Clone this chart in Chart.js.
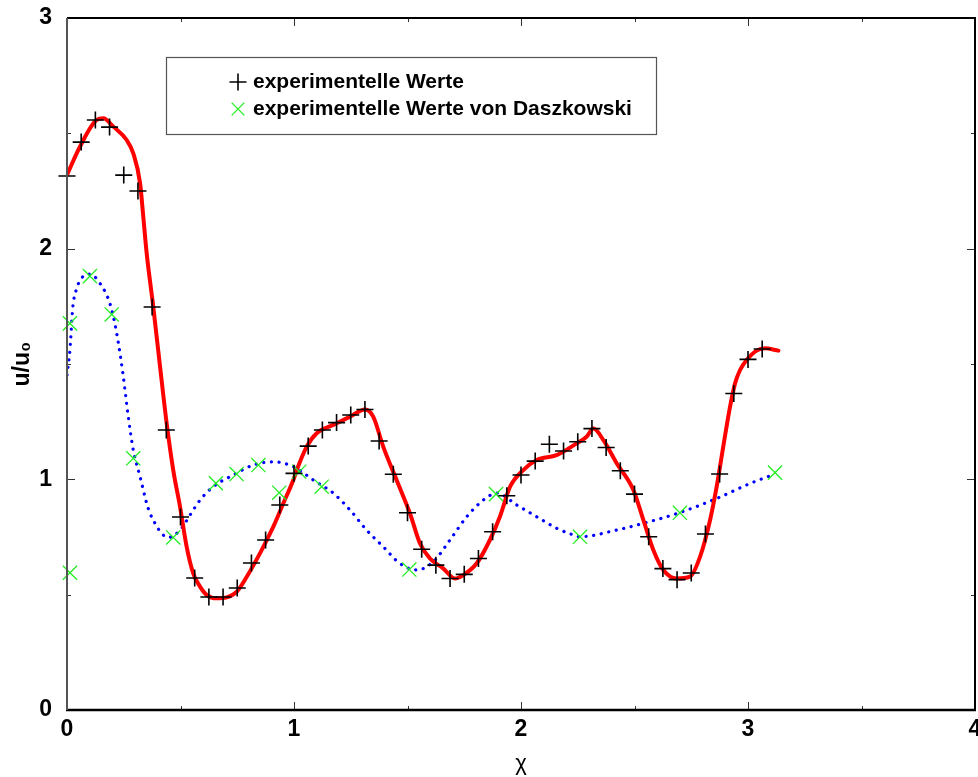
<!DOCTYPE html>
<html>
<head>
<meta charset="utf-8">
<script src="https://cdn.jsdelivr.net/npm/chart.js@4/dist/chart.umd.min.js"></script>
<style>
	html, body { margin: 0; padding: 0; background: #fff; }
	#wrap { width: 978px; height: 777px; }
</style>
</head>
<body>
<div id="wrap"><canvas id="chiChart" width="978" height="777"></canvas></div>
<script>
// experimentelle Werte (black +)
const expX = [0, 0.0625, 0.125, 0.1875, 0.25, 0.3125, 0.375, 0.4375, 0.5, 0.5625,
	0.625, 0.6875, 0.75, 0.8125, 0.875, 0.9375, 1, 1.0625, 1.125, 1.1875,
	1.25, 1.3125, 1.375, 1.4375, 1.5, 1.5625, 1.625, 1.6875, 1.75, 1.8125,
	1.875, 1.9375, 2, 2.0625, 2.125, 2.1875, 2.25, 2.3125, 2.375, 2.4375,
	2.5, 2.5625, 2.625, 2.6875, 2.75, 2.8125, 2.875, 2.9375, 3, 3.0625];
const expY = [2.315, 2.462, 2.558, 2.527, 2.319, 2.25, 1.747, 1.214, 0.837, 0.572,
	0.49, 0.49, 0.529, 0.637, 0.737, 0.889, 1.026, 1.144, 1.214, 1.246,
	1.279, 1.303, 1.166, 1.022, 0.855, 0.697, 0.628, 0.570, 0.588, 0.657,
	0.773, 0.929, 1.019, 1.079, 1.152, 1.123, 1.163, 1.22, 1.138, 1.037,
	0.936, 0.751, 0.613, 0.565, 0.594, 0.763, 1.023, 1.372, 1.520, 1.565];

// experimentelle Werte von Daszkowski (green x)
const daszX = [0.013, 0.013, 0.101, 0.197, 0.292, 0.468, 0.656, 0.747, 0.843,
	0.935, 1.023, 1.122, 1.508, 1.890, 2.260, 2.700, 3.119];
const daszY = [1.676, 0.595, 1.881, 1.715, 1.091, 0.748, 0.983, 1.023, 1.062,
	0.942, 1.033, 0.968, 0.609, 0.936, 0.751, 0.855, 1.029];

// red curve through the experimental values
const fitX = [0, 0.057, 0.131, 0.160, 0.204, 0.263, 0.292, 0.322, 0.336, 0.351,
	0.380, 0.410, 0.439, 0.468, 0.498, 0.527, 0.556, 0.586, 0.615, 0.659,
	0.704, 0.748, 0.792, 0.850, 0.880, 0.909, 0.953, 0.997, 1.012, 1.056,
	1.100, 1.173, 1.247, 1.313, 1.349, 1.393, 1.452, 1.511, 1.555, 1.599,
	1.658, 1.709, 1.746, 1.805, 1.863, 1.907, 1.952, 2.010, 2.069, 2.157,
	2.245, 2.289, 2.319, 2.363, 2.422, 2.495, 2.539, 2.583, 2.627, 2.686,
	2.744, 2.789, 2.833, 2.862, 2.891, 2.921, 2.943, 2.965, 2.994, 3.038,
	3.075, 3.134];
const fitY = [2.32, 2.442, 2.558, 2.565, 2.529, 2.471, 2.413, 2.283, 2.139, 1.98,
	1.748, 1.488, 1.243, 1.04, 0.881, 0.708, 0.592, 0.535, 0.499, 0.484,
	0.488, 0.513, 0.578, 0.679, 0.737, 0.795, 0.896, 0.997, 1.04, 1.142,
	1.2, 1.236, 1.272, 1.303, 1.272, 1.142, 0.997, 0.852, 0.722, 0.657,
	0.613, 0.570, 0.585, 0.636, 0.737, 0.838, 0.968, 1.04, 1.084, 1.105,
	1.156, 1.185, 1.22, 1.17, 1.069, 0.954, 0.824, 0.694, 0.607, 0.57,
	0.578, 0.665, 0.824, 0.968, 1.142, 1.315, 1.416, 1.474, 1.517, 1.558,
	1.568, 1.558];

// blue dotted curve through Daszkowski's values
const daszFitX = [0, 0.013, 0.025, 0.043, 0.072, 0.101, 0.145, 0.189, 0.219, 0.248,
	0.270, 0.292, 0.322, 0.351, 0.366, 0.388, 0.417, 0.446, 0.498, 0.542,
	0.586, 0.644, 0.733, 0.821, 0.909, 0.997, 1.085, 1.173, 1.247, 1.320,
	1.393, 1.467, 1.541, 1.614, 1.687, 1.761, 1.834, 1.893, 1.981, 2.069,
	2.157, 2.230, 2.260, 2.421, 2.568, 2.700, 2.862, 3.009, 3.119];
const daszFitY = [1.452, 1.561, 1.741, 1.828, 1.881, 1.89, 1.85, 1.762, 1.633, 1.445,
	1.27, 1.127, 1.011, 0.896, 0.852, 0.809, 0.765, 0.748, 0.78, 0.845,
	0.91, 0.968, 1.019, 1.062, 1.076, 1.055, 0.997, 0.94, 0.867, 0.78,
	0.708, 0.635, 0.607, 0.643, 0.737, 0.838, 0.91, 0.94, 0.889, 0.838,
	0.788, 0.759, 0.751, 0.78, 0.817, 0.856, 0.917, 0.982, 1.023];

// axis ticks
const xTicks = [0, 0.5, 1, 1.5, 2, 2.5, 3, 3.5, 4];
const yTicks = [0, 0.5, 1, 1.5, 2, 2.5, 3];

const toPoints = (xs, ys) => xs.map((x, i) => ({ x: x, y: ys[i] }));

const FONT = '"Liberation Sans", Arial, Helvetica, sans-serif';

// gnuplot style frame with inward ticks on all four sides
const framePlugin = {
	id: 'frame',
	afterDatasetsDraw(chart) {
		const { ctx, chartArea: a, scales } = chart;
		ctx.save();
		ctx.strokeStyle = '#333';
		ctx.lineWidth = 1;
		xTicks.forEach(v => {
			const px = Math.round(scales.x.getPixelForValue(v)) + 0.5;
			const len = Number.isInteger(v) ? 8 : 4;
			ctx.beginPath();
			ctx.moveTo(px, a.bottom); ctx.lineTo(px, a.bottom - len);
			ctx.moveTo(px, a.top); ctx.lineTo(px, a.top + len);
			ctx.stroke();
		});
		yTicks.forEach(v => {
			const py = Math.round(scales.y.getPixelForValue(v)) + 0.5;
			const len = Number.isInteger(v) ? 8 : 4;
			ctx.beginPath();
			ctx.moveTo(a.left, py); ctx.lineTo(a.left + len, py);
			ctx.moveTo(a.right, py); ctx.lineTo(a.right - len, py);
			ctx.stroke();
		});
		ctx.lineWidth = 2;
		ctx.strokeStyle = '#000';
		ctx.beginPath();
		ctx.moveTo(a.left, a.top); ctx.lineTo(a.right, a.top); ctx.lineTo(a.right, a.bottom);
		ctx.stroke();
		ctx.lineWidth = 2.5;
		ctx.beginPath();
		ctx.moveTo(a.left - 1, a.bottom); ctx.lineTo(a.right + 1, a.bottom);
		ctx.stroke();
		ctx.lineWidth = 2;
		ctx.strokeStyle = '#555';
		ctx.beginPath();
		ctx.moveTo(a.left, a.top); ctx.lineTo(a.left, a.bottom);
		ctx.stroke();
		ctx.restore();
	},
	afterDraw(chart) {
		// boxed key, only the two marker series
		const ctx = chart.ctx;
		const sets = chart.data.datasets.filter(d => d.inKey);
		ctx.save();
		ctx.strokeStyle = '#555';
		ctx.lineWidth = 1.2;
		ctx.strokeRect(166.5, 57.5, 490, 77);
		ctx.font = 'bold 21px ' + FONT;
		ctx.textBaseline = 'middle';
		ctx.textAlign = 'left';
		sets.forEach((d, i) => {
			const y = 82 + i * 27;
			ctx.strokeStyle = d.borderColor;
			ctx.lineWidth = d.borderWidth;
			Chart.helpers.drawPoint(ctx, {
				pointStyle: d.pointStyle,
				radius: d.pointStyle === 'cross' ? 8.5 : 9,
				rotation: 0,
				borderWidth: d.borderWidth
			}, 238, y);
			ctx.fillStyle = '#000';
			ctx.fillText(d.label, 253, y);
		});
		ctx.restore();
	}
};

new Chart(document.getElementById('chiChart'), {
	type: 'scatter',
	data: {
		datasets: [
			{
				label: 'experimentelle Werte',
				inKey: true,
				data: toPoints(expX, expY),
				showLine: false,
				pointStyle: 'cross',
				pointRadius: 8.5,
				borderColor: '#000',
				backgroundColor: '#000',
				borderWidth: 1.6,
				clip: false,
			},
			{
				label: 'experimentelle Werte von Daszkowski',
				inKey: true,
				data: toPoints(daszX, daszY),
				showLine: false,
				pointStyle: 'crossRot',
				pointRadius: 10,
				borderColor: '#22ee22',
				backgroundColor: '#22ee22',
				borderWidth: 1.3,
				clip: false,
			},
			{
				label: 'fit',
				data: toPoints(fitX, fitY),
				showLine: true,
				pointRadius: 0,
				borderColor: '#ff0000',
				borderWidth: 4,
				cubicInterpolationMode: 'monotone',
				borderCapStyle: 'round',
			},
			{
				label: 'fit Daszkowski',
				data: toPoints(daszFitX, daszFitY),
				showLine: true,
				pointRadius: 0,
				borderColor: '#0000ff',
				borderWidth: 3.2,
				borderDash: [0.1, 7.6],
				borderCapStyle: 'round',
				cubicInterpolationMode: 'monotone',
			},
		],
	},
	options: {
		responsive: false,
		animation: false,
		layout: {
			autoPadding: false,
			padding: { top: 18, right: 3, left: 0, bottom: 0 },
		},
		plugins: {
			legend: { display: false },
			tooltip: { enabled: false },
		},
		scales: {
			x: {
				type: 'linear',
				min: 0,
				max: 4,
				grid: { display: false, drawTicks: false },
				border: { display: false },
				ticks: {
					stepSize: 1,
					padding: 6,
					color: '#000',
					font: { family: FONT, size: 23, weight: 'bold' },
				},
				title: {
					display: true,
					text: 'χ',
					color: '#000',
					padding: { top: 0, bottom: 0 },
					font: { family: FONT, size: 22 },
				},
				afterFit(scale) {
					scale.height = 67;
					scale.paddingLeft = 0;
					scale.paddingRight = 0;
				},
			},
			y: {
				type: 'linear',
				min: 0,
				max: 3,
				grid: { display: false, drawTicks: false },
				border: { display: false },
				ticks: {
					stepSize: 1,
					padding: 15,
					color: '#000',
					font: { family: FONT, size: 23, weight: 'bold' },
				},
				title: {
					display: true,
					text: 'u/u₀',
					color: '#000',
					padding: { top: 9, bottom: 0 },
					font: { family: FONT, size: 23, weight: 'bold' },
				},
				afterFit(scale) {
					scale.width = 67;
					scale.paddingTop = 0;
					scale.paddingBottom = 0;
				},
			},
		},
	},
	plugins: [framePlugin],
});
</script>
</body>
</html>
